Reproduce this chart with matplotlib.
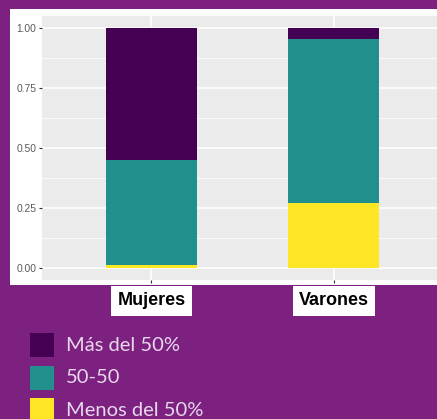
import matplotlib.pyplot as plt
from matplotlib.patches import Rectangle
import numpy as np

# Data (shares)
groups = ["Mujeres", "Varones"]
categories = ["Más del 50%", "50-50", "Menos del 50%"]
menos_50 = [0.014, 0.273]
cincuenta = [0.436, 0.680]
mas_50 = [0.550, 0.047]
colors = ["#440154", "#21908C", "#FDE725"]
yticks = [0.00, 0.25, 0.50, 0.75, 1.00]

BG = "#7D2181"

fig = plt.figure(figsize=(4.37, 4.19), dpi=100, facecolor=BG)

# white plot background (ggplot plot.background)
fig.patches.append(Rectangle((10 / 437, 1 - 285 / 419), 1.0, (285 - 9) / 419,
                             transform=fig.transFigure, facecolor="white",
                             edgecolor="none", zorder=-5))

ax = fig.add_axes([42 / 437, 1 - 280.3 / 419, (443.2 - 42) / 437, 264.6 / 419])
ax.set_facecolor("#EBEBEB")
ax.set_zorder(1)

x = np.arange(1, len(groups) + 1)
stacks = [mas_50, cincuenta, menos_50]
bottom_menos = np.zeros(len(groups))
bottom_cinc = bottom_menos + np.array(menos_50)
bottom_mas = bottom_cinc + np.array(cincuenta)
bottoms = [bottom_mas, bottom_cinc, bottom_menos]
for vals, bot, col in zip(stacks, bottoms, colors):
    ax.bar(x, vals, bottom=bot, width=0.5, color=col, zorder=3)

ax.set_xlim(0.4, 2.6)
ax.set_ylim(-0.05, 1.05)
ax.set_yticks(yticks)
ax.set_yticklabels([f"{v:.2f}" for v in yticks])
ax.set_yticks(np.arange(0.125, 1.0, 0.25), minor=True)
ax.set_xticks(x)
ax.set_xticklabels(groups)

ax.grid(True, which="major", color="white", linewidth=1.1, zorder=1)
ax.grid(True, which="minor", axis="y", color="white", linewidth=0.55, zorder=1)
ax.set_axisbelow(True)
for s in ax.spines.values():
    s.set_visible(False)

ax.tick_params(axis="y", which="major", length=2.2, width=0.8, color="#333333",
               labelsize=7.4, labelcolor="#5A5A5A", pad=2)
ax.tick_params(axis="y", which="minor", length=0)
ax.tick_params(axis="x", length=2.2, width=0.8, color="#333333",
               labelsize=13, pad=6.5)
for lab in ax.get_xticklabels():
    lab.set_fontfamily("Liberation Sans")
    lab.set_fontweight("bold")
    lab.set_color("black")
    lab.set_bbox(dict(facecolor="white", edgecolor="none",
                      boxstyle="square,pad=0.34"))
for lab in ax.get_yticklabels():
    lab.set_fontfamily("Liberation Sans")

# legend drawn on the purple background
for i, (cat, col) in enumerate(zip(categories, colors)):
    top = 333 + i * 32.5
    fig.patches.append(Rectangle((30 / 437, 1 - (top + 24) / 419), 24 / 437, 24 / 419,
                                 transform=fig.transFigure, facecolor=col,
                                 edgecolor="none"))
    fig.text(66 / 437, 1 - (top + 12) / 419, cat, fontsize=14.5,
             fontfamily="Lato", fontweight="normal", color="#E8D8EC",
             va="center", ha="left")

fig.savefig("out.png", dpi=100, facecolor=BG)
